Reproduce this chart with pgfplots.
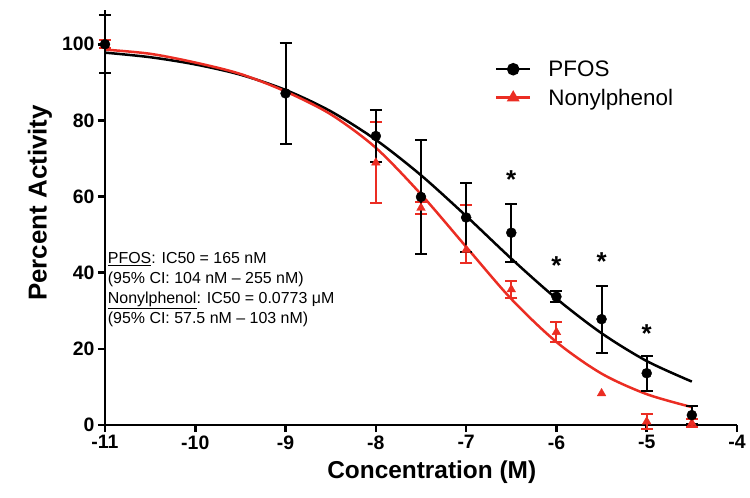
\documentclass[border=0pt]{standalone}
\usepackage{fontspec}
\setmainfont{Liberation Sans}
\usepackage{pgfplots}
\pgfplotsset{compat=1.18}
\definecolor{npred}{RGB}{235,45,35}
\begin{document}
\begin{tikzpicture}
\begin{axis}[
  at={(0,0)}, anchor=south west,
  scale only axis, width=632bp, height=415bp,
  xmin=-11, xmax=-4, ymin=0, ymax=109,
  axis lines=left, axis line style={line width=2.5bp, -},
  xtick={-11,-10,...,-4}, ytick={0,20,...,100},
  tick align=outside, major tick length=7bp,
  tick style={line width=2.5bp, black},
  tick label style={font=\bfseries\fontsize{19.5}{19.5}\selectfont},
  /pgf/number format/assume math mode=true,
  clip=false,
  xlabel={Concentration (M)}, ylabel={Percent Activity},
  xlabel style={font=\bfseries\fontsize{24.5}{24.5}\selectfont, at={(axis description cs:0.517,-0.113)}, anchor=center},
  ylabel style={font=\bfseries\fontsize{26}{26}\selectfont, at={(axis description cs:-0.103,0.535)}, rotate=0, anchor=center},
  legend style={at={(0.612,0.888)}, anchor=north west, draw=none, fill=none,
    font=\fontsize{22.5}{24}\selectfont, row sep=7bp, column sep=15bp},
  legend cell align=left,
  legend image code/.code={\draw[mark repeat=2,mark phase=2,#1] plot coordinates {(0bp,0bp) (17bp,0bp) (34bp,0bp)};},
]
% fitted curves
\addplot[black, line width=2.5bp, smooth, forget plot] coordinates {
(-11,97.8) (-10.5,96.6) (-10,94.7) (-9.5,92.0) (-9,88.0) (-8.5,82.4) (-8,74.9)
(-7.5,65.6) (-7,54.9) (-6.5,43.7) (-6,33.2) (-5.5,24.1) (-5,16.8) (-4.5,11.4)};
\addplot[npred, line width=2.5bp, smooth, forget plot] coordinates {
(-11,98.6) (-10.5,97.5) (-10,95.2) (-9.5,92.2) (-9,87.6) (-8.5,81.6) (-8,72.8)
(-7.5,60.6) (-7,46.8) (-6.5,33.1) (-6,21.8) (-5.5,13.5) (-5,8.1) (-4.5,4.7)};
% Nonylphenol data
\addplot[npred, only marks, mark=triangle*, mark size=5bp, forget plot,
  error bars/.cd, y dir=both, y explicit,
  error bar style={line width=2bp, npred}, error mark options={rotate=90, line width=2bp, mark size=6bp, npred}]
  coordinates {
(-11,100) +- (0,1)
(-8,68.9) +- (0,10.6)
(-7.5,57) +- (0,1.5)
(-7,46) += (0,11.7) -= (0,3.5)
(-6.5,35.6) +- (0,2.3)
(-6,24.4) +- (0,2.6)
(-5,0.9) +- (0,2)
(-4.5,0.5) +- (0,1)
};
\addplot[npred, only marks, mark=triangle*, mark size=5bp, forget plot]
  coordinates {(-5.5,8.3)};
% PFOS data
\addplot[black, only marks, mark=*, mark size=5bp, forget plot,
  error bars/.cd, y dir=both, y explicit,
  error bar style={line width=2bp, black}, error mark options={rotate=90, line width=2bp, mark size=6bp, black}]
  coordinates {
(-11,100) +- (0,7.6)
(-9,87.1) +- (0,13.2)
(-8,75.9) +- (0,6.9)
(-7.5,59.9) +- (0,15)
(-7,54.5) +- (0,9)
(-6.5,50.5) +- (0,7.6)
(-6,33.7) +- (0,1.5)
(-5.5,27.8) +- (0,8.8)
(-5,13.6) +- (0,4.6)
(-4.5,2.6) +- (0,2.4)
};
% significance stars
\addplot[draw=none, mark=none, forget plot,
  nodes near coords={\bfseries *},
  every node near coord/.append style={anchor=center, yshift=-6bp, font=\fontsize{26}{26}\selectfont}]
  coordinates {(-6.5,66) (-6,43.5) (-5.5,44.5) (-5,25.5)};
\addlegendimage{black, line width=2.5bp, mark=*, mark size=5bp}
\addlegendentry{PFOS}
\addlegendimage{npred, line width=2.5bp, mark=triangle*, mark size=5bp}
\addlegendentry{Nonylphenol}
\node[anchor=north west, align=left, inner sep=0pt, font=\fontsize{16}{20}\selectfont]
  at (axis cs:-10.97,45.3)
  {\underline{PFOS}: IC50 = 165 nM\\(95\% CI: 104 nM – 255 nM)\\\underline{Nonylphenol}: IC50 = 0.0773 μM\\(95\% CI: 57.5 nM – 103 nM)};
\end{axis}
\pgfresetboundingbox
\path (-105bp,-73bp) rectangle (645bp,425bp);
\end{tikzpicture}
\end{document}
